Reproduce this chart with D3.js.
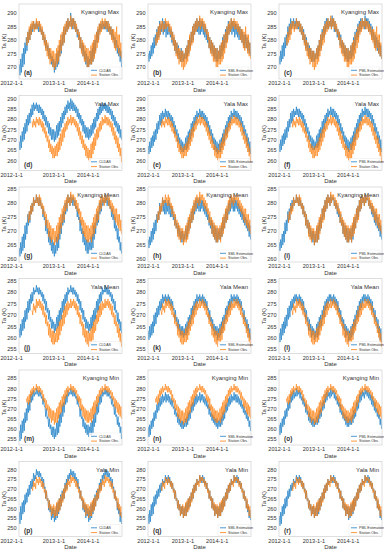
<!DOCTYPE html>
<html>
<head>
<meta charset="utf-8">
<script src="https://cdnjs.cloudflare.com/ajax/libs/d3/7.8.5/d3.min.js"></script>
<style>
  body { margin: 0; background: #fff; }
  text { font-family: "Liberation Sans", Arial, sans-serif; fill: #333; }
</style>
</head>
<body>
<div class="chart"></div>
<script>
// four readings per month, Jan 2012 .. Dec 2014, one year per line, K
const rowTitles = ['Kyanging Max', 'Yala Max', 'Kyanging Mean', 'Yala Mean', 'Kyanging Min', 'Yala Min'];
const modelNames = ['CLDAS', 'SML Estimation', 'PML Estimation'];
const obsName = 'Station Obs.';
const panelLetters = ['a','b','c','d','e','f','g','h','i','j','k','l','m','n','o','p','q','r'];
const xTickLabels = ['2012-1-1', '2013-1-1', '2014-1-1'];

const yDomains = [[265.6, 293.3], [255, 291.5], [259, 285.7], [253, 286], [252, 289], [245.5, 284]];
const yTicks = [
    [270, 275, 280, 285, 290],
    [260, 265, 270, 275, 280, 285, 290],
    [260, 265, 270, 275, 280, 285],
    [255, 260, 265, 270, 275, 280, 285],
    [255, 260, 265, 270, 275, 280, 285],
    [250, 255, 260, 265, 270, 275, 280]
];

// ---- Kyanging Max
const obsKyMax = [
    null,null,null,null, null,null,null,null, null,null,281,278, 283,279,285,280, 286,282,287,284, 287,283,286,284, 288,284,287,285, 287,283,286,282, 285,280,283,278, 282,276,280,274, 279,273,277,271, 277,272,276,270,
    276,269,275,270, 277,271,278,272, 280,274,282,276, 283,278,285,279, 286,282,287,283, 288,284,287,285, 289,284,288,285, 288,284,287,283, 286,282,284,280, 283,277,281,275, 280,274,279,272, 278,272,277,270,
    277,270,276,271, 278,271,279,272, 280,273,282,275, 283,277,285,279, 286,282,287,283, 288,284,287,285, 288,284,287,284, 287,283,286,282, 285,280,284,279, 284,277,283,276, 285,277,282,275, 282,274,279,273
];
const cldasKyMax = [
    271,267,273,268, 275,270,277,271, 279,275,281,276, 283,279,284,280, 285,282,286,283, 287,284,286,284, 287,284,286,283, 287,283,285,282, 284,280,283,279, 281,277,280,276, 278,274,277,273, 275,271,274,270,
    273,268,272,269, 275,270,276,271, 278,274,280,275, 282,278,284,279, 285,282,287,283, 288,284,287,285, 290,285,288,284, 288,284,287,283, 285,281,284,280, 282,277,281,276, 279,274,278,273, 276,271,275,270,
    274,270,273,271, 276,271,277,272, 279,274,280,276, 283,279,284,280, 286,283,286,284, 287,284,286,284, 287,284,287,283, 287,283,285,282, 285,281,284,280, 282,278,281,277, 280,275,278,274, 277,272,276,270
];
const smlKyMax = [
    275,272,276,273, 278,274,279,275, 281,277,282,278, 284,280,285,281, 287,282,286,283, 288,282,287,283, 287,281,286,282, 286,282,285,281, 284,279,283,278, 281,276,280,275, 279,274,278,273, 276,272,277,272,
    276,272,275,273, 277,273,278,274, 280,275,281,277, 283,279,285,280, 286,282,287,283, 288,283,287,282, 288,282,287,283, 287,282,286,281, 285,280,284,279, 282,277,281,276, 280,275,279,274, 278,273,277,272,
    277,272,276,273, 278,273,279,274, 281,276,282,277, 284,279,285,280, 287,282,286,283, 288,282,287,283, 287,281,286,282, 286,281,285,280, 285,280,284,279, 283,278,282,277, 282,277,281,276, 280,275,279,274
];
const pmlKyMax = [
    274,271,276,272, 278,273,279,274, 281,277,282,278, 285,281,286,282, 288,284,287,285, 288,284,287,285, 288,284,287,284, 287,283,286,282, 285,280,284,279, 282,277,281,276, 279,274,278,273, 277,272,276,272,
    276,272,275,273, 277,273,278,274, 280,276,282,277, 284,280,285,281, 287,283,288,284, 288,284,287,285, 288,284,289,285, 288,283,287,283, 285,281,284,280, 283,278,282,277, 280,275,279,274, 278,273,277,272,
    277,272,276,273, 278,273,279,274, 281,276,283,278, 284,280,286,281, 287,283,288,284, 288,285,287,284, 289,284,288,285, 288,283,287,283, 286,281,285,280, 283,278,282,277, 281,276,280,275, 279,274,278,273
];

// ---- Yala Max
const obsYaMax = [
    null,null,null,null, null,null,null,null, null,null,null,null, null,null,null,null, null,null,279,276, 280,277,279,276, 281,278,280,277, 281,277,280,276, 279,274,278,273, 276,271,274,269, 272,266,270,264, 268,263,267,261,
    266,261,267,262, 268,262,269,264, 271,265,273,267, 275,269,276,271, 278,274,279,275, 281,277,280,278, 282,277,281,278, 281,277,280,276, 279,274,278,272, 276,270,274,268, 272,266,270,265, 268,262,267,261,
    266,260,265,259, 268,261,269,263, 271,265,273,267, 275,270,276,271, 278,274,279,275, 281,277,280,278, 282,278,281,277, 281,277,280,276, 279,274,278,272, 276,270,274,268, 272,266,271,264, 268,262,266,259
];
const cldasYaMax = [
    269,265,272,266, 274,269,276,270, 278,273,280,274, 282,277,283,278, 285,281,287,282, 288,284,287,285, 288,284,287,283, 287,283,286,282, 285,280,284,279, 282,277,281,276, 279,273,278,272, 276,270,275,270,
    275,269,274,270, 277,271,278,272, 279,274,281,276, 283,278,284,280, 286,282,287,283, 289,285,288,284, 290,285,289,284, 288,284,287,283, 286,281,285,280, 283,278,282,277, 280,274,279,273, 277,271,276,271,
    276,270,275,271, 277,272,278,273, 280,275,281,276, 283,279,285,280, 286,282,287,283, 288,284,287,285, 288,284,287,283, 287,283,286,282, 285,280,284,279, 282,277,281,276, 279,274,278,273, 277,271,275,270
];
const smlYaMax = [
    267,263,269,264, 271,266,272,267, 274,269,275,270, 278,273,279,275, 282,277,283,278, 284,280,283,281, 285,281,284,280, 284,280,283,279, 282,277,281,276, 279,273,277,272, 275,269,273,268, 271,265,270,264,
    269,264,268,265, 271,265,272,266, 274,268,275,270, 278,272,279,274, 281,277,282,278, 284,280,283,281, 285,281,284,280, 284,280,283,279, 282,277,281,276, 279,273,277,272, 275,269,273,268, 271,265,270,264,
    269,263,268,264, 270,264,271,266, 273,268,275,269, 277,272,279,273, 281,276,282,278, 284,280,283,281, 285,281,284,280, 284,280,283,279, 282,277,281,276, 279,273,277,272, 275,269,273,267, 271,264,269,263
];
const pmlYaMax = [
    268,264,270,265, 272,267,273,268, 275,270,276,271, 279,274,280,276, 283,278,284,279, 285,281,284,282, 286,282,285,281, 285,281,284,280, 283,278,282,277, 280,274,278,273, 276,270,274,269, 272,266,271,265,
    270,265,269,266, 272,266,273,267, 275,269,276,271, 279,273,280,275, 282,278,283,279, 285,281,284,282, 286,282,285,281, 285,281,284,280, 283,278,282,277, 280,274,278,273, 276,270,274,269, 272,266,271,265,
    270,264,269,265, 271,265,272,267, 274,269,276,270, 278,273,280,274, 282,277,283,279, 285,281,284,282, 286,282,285,281, 285,281,284,280, 283,278,282,277, 280,274,278,273, 276,270,274,268, 272,265,270,264
];

// ---- Kyanging Mean
const obsKyMean = [
    null,null,null,null, null,null,null,null, null,null,null,null, 276,273,277,274, 279,276,280,277, 282,279,281,280, 283,280,282,279, 283,279,282,278, 280,276,279,275, 277,272,276,271, 274,268,273,267, 272,266,271,267,
    271,265,270,266, 272,266,273,267, 275,269,276,271, 278,273,279,274, 281,277,282,278, 283,280,282,279, 284,280,283,281, 283,279,282,278, 281,277,280,276, 278,273,277,272, 275,269,274,268, 273,267,272,266,
    272,266,271,267, 272,266,273,268, 275,269,276,271, 278,273,279,274, 281,277,282,278, 283,280,282,279, 283,280,282,281, 283,279,282,278, 281,277,280,276, 279,274,278,273, 278,272,276,271, 276,270,274,269
];
const cldasKyMean = [
    264,261,266,262, 268,263,269,264, 272,267,273,269, 276,272,277,273, 279,276,280,277, 282,279,281,280, 283,280,282,279, 282,279,281,278, 279,275,278,274, 275,270,274,269, 271,266,270,265, 268,263,267,262,
    266,261,265,262, 268,263,269,264, 272,267,273,269, 276,272,277,273, 280,276,281,277, 283,280,282,279, 283,280,282,279, 282,279,281,278, 279,275,278,274, 275,270,274,269, 271,266,270,265, 268,263,267,262,
    267,262,266,263, 268,263,269,264, 272,267,273,269, 276,272,277,273, 280,276,281,277, 282,279,281,280, 283,280,282,279, 282,279,281,278, 279,275,278,274, 276,271,275,270, 272,267,271,266, 268,263,266,262
];
const smlKyMean = [
    267,264,268,265, 270,266,271,267, 273,269,274,270, 276,273,277,274, 280,276,279,277, 282,277,281,276, 281,276,280,277, 281,276,280,275, 279,275,278,274, 276,272,275,271, 273,269,272,268, 271,267,270,266,
    270,266,269,267, 271,267,272,268, 274,270,275,271, 277,273,278,274, 280,276,281,277, 282,278,281,277, 282,277,281,278, 281,277,280,276, 279,275,278,274, 276,272,275,271, 274,269,273,268, 272,267,271,266,
    271,266,270,267, 271,267,272,268, 274,270,275,271, 277,273,278,274, 280,276,281,277, 282,278,281,277, 282,277,281,278, 281,277,280,276, 279,275,278,274, 277,273,276,272, 275,271,274,270, 273,268,272,267
];
const pmlKyMean = [
    266,263,267,264, 269,265,270,266, 273,269,274,270, 277,273,278,274, 280,277,281,278, 282,279,281,280, 283,280,282,279, 282,279,281,278, 280,276,279,275, 277,272,276,271, 274,269,273,268, 271,267,270,266,
    270,265,269,266, 271,266,272,267, 274,270,275,271, 278,274,279,275, 281,277,282,278, 283,280,282,279, 283,280,282,281, 282,279,281,278, 280,276,279,275, 277,273,276,272, 274,269,273,268, 272,267,271,266,
    271,266,270,267, 271,266,272,267, 274,270,275,271, 278,274,279,275, 281,277,282,278, 283,280,282,279, 283,280,282,281, 282,279,281,278, 280,276,279,275, 278,273,277,272, 276,271,275,270, 273,268,272,267
];

// ---- Yala Mean
const obsYaMean = [
    null,null,null,null, null,null,null,null, null,null,null,null, null,null,null,null, null,null,272,270, 275,272,274,271, 277,273,276,274, 277,273,276,272, 275,270,274,269, 271,266,270,265, 267,261,266,260, 264,258,263,257,
    263,257,262,258, 264,258,265,259, 267,261,268,263, 270,265,272,266, 274,269,275,270, 276,272,275,273, 277,273,276,274, 277,273,276,272, 275,270,274,269, 271,266,270,265, 267,261,266,260, 264,258,263,257,
    263,256,262,257, 264,258,265,259, 267,262,268,263, 270,266,272,267, 274,269,275,270, 276,272,275,273, 277,273,276,274, 277,273,276,272, 275,270,274,269, 271,266,270,265, 267,262,266,260, 264,258,262,256
];
const cldasYaMean = [
    264,260,266,261, 268,263,269,264, 272,267,273,268, 276,271,277,272, 279,275,280,276, 282,279,281,280, 283,280,282,279, 282,279,281,278, 280,276,279,275, 277,272,276,271, 273,268,272,267, 269,264,268,264,
    267,262,266,263, 269,264,270,265, 272,267,273,268, 276,271,277,272, 279,275,280,276, 282,279,281,280, 283,280,282,279, 282,279,281,278, 280,276,279,275, 277,272,276,271, 273,268,272,267, 269,264,268,264,
    267,262,266,263, 269,264,270,265, 272,267,273,268, 276,271,277,272, 279,275,280,276, 282,279,281,280, 283,280,282,279, 282,279,281,278, 280,276,279,275, 277,272,276,271, 272,267,271,266, 268,263,267,262
];
const smlYaMean = [
    263,259,265,260, 266,261,267,262, 270,265,271,266, 273,269,274,270, 276,272,277,273, 279,275,278,276, 279,275,278,276, 279,275,278,274, 277,273,276,272, 273,268,272,267, 269,264,268,263, 266,261,265,261,
    265,260,264,261, 266,261,267,262, 269,264,270,266, 273,268,274,270, 276,272,277,273, 279,275,278,276, 279,276,278,275, 279,275,278,274, 277,273,276,272, 273,268,272,267, 269,264,268,263, 266,261,265,261,
    265,259,264,260, 266,261,267,262, 269,264,270,266, 273,268,274,270, 276,272,277,273, 279,275,278,276, 279,276,278,275, 279,275,278,274, 277,273,276,272, 273,268,272,267, 269,264,268,263, 266,260,264,259
];
const pmlYaMean = [
    262,258,264,259, 266,261,267,262, 269,264,270,265, 273,268,274,269, 276,272,277,273, 278,275,279,276, 279,276,278,275, 279,275,278,274, 277,272,276,271, 273,268,272,267, 269,263,268,263, 266,260,265,261,
    264,259,263,260, 266,260,267,261, 269,264,270,265, 272,268,274,269, 276,272,277,273, 278,275,279,276, 279,276,278,275, 279,275,278,274, 277,272,276,271, 273,268,272,267, 269,264,268,263, 266,260,265,261,
    264,258,263,259, 265,260,266,261, 268,264,270,265, 272,268,274,269, 276,272,277,273, 278,275,279,276, 279,276,278,275, 279,275,278,274, 277,272,276,271, 273,268,272,267, 269,264,268,262, 265,259,264,258
];

// ---- Kyanging Min
const obsKyMin = [
    null,null,null,null, null,null,null,null, null,null,275,273, 276,272,277,273, 279,276,280,277, 281,278,280,279, 282,279,281,278, 281,278,280,277, 279,274,277,273, 275,270,274,269, 272,266,271,265, 270,263,269,264,
    269,262,268,263, 270,263,271,265, 273,267,274,268, 276,271,277,272, 279,275,280,276, 281,278,280,279, 282,279,281,278, 281,278,280,277, 279,274,277,273, 276,270,275,269, 272,266,271,265, 270,264,269,263,
    269,263,268,264, 270,263,271,265, 273,267,274,268, 276,271,277,273, 279,276,280,277, 281,278,280,279, 282,279,281,278, 281,278,280,277, 279,275,278,274, 276,271,275,270, 274,268,273,267, 272,266,271,265
];
const cldasKyMin = [
    259,254,262,255, 264,258,265,259, 268,263,270,264, 273,268,274,269, 277,273,278,274, 279,276,278,277, 280,277,279,276, 279,276,278,275, 276,272,275,271, 271,266,270,265, 266,261,265,260, 262,257,261,256,
    261,255,260,256, 263,257,264,258, 267,261,268,263, 272,266,273,268, 276,272,277,273, 279,276,278,277, 280,277,279,276, 279,276,278,275, 276,272,275,271, 271,266,270,265, 266,261,265,260, 263,258,262,257,
    262,256,261,257, 263,257,264,258, 267,261,268,263, 272,267,273,268, 276,272,277,273, 279,276,278,277, 280,277,279,276, 279,276,278,275, 276,272,275,271, 272,267,271,266, 267,262,266,261, 263,258,261,255
];
const smlKyMin = [
    261,256,262,257, 264,260,265,261, 268,264,269,265, 272,268,273,269, 275,271,276,272, 277,273,276,274, 278,273,277,274, 277,273,276,272, 275,271,274,270, 271,267,270,266, 268,263,267,262, 265,261,264,260,
    264,260,263,261, 265,261,266,262, 268,264,269,265, 272,268,273,269, 275,271,276,272, 277,273,276,274, 278,273,277,274, 277,273,276,272, 275,271,274,270, 272,267,271,266, 268,264,267,263, 266,262,265,261,
    265,260,264,261, 265,261,266,262, 268,264,269,265, 272,268,273,269, 275,271,276,272, 277,273,276,274, 278,274,277,273, 277,273,276,272, 275,271,274,270, 272,268,271,267, 269,265,268,264, 266,261,264,259
];
const pmlKyMin = [
    262,257,263,258, 265,261,266,262, 269,265,270,266, 273,269,274,270, 277,273,278,274, 279,275,278,276, 280,276,279,277, 279,275,278,274, 276,272,275,271, 273,268,272,267, 269,264,268,263, 266,262,265,261,
    265,261,264,262, 266,262,267,263, 269,265,270,266, 273,269,274,270, 277,273,278,274, 279,276,278,275, 280,276,279,277, 279,275,278,274, 276,272,275,271, 273,268,272,267, 269,265,268,264, 267,262,266,261,
    266,261,265,262, 266,262,267,263, 269,265,270,266, 273,269,274,270, 277,273,278,274, 279,276,278,275, 280,277,279,276, 279,275,278,274, 277,272,276,271, 274,269,273,268, 270,266,269,265, 267,262,265,260
];

// ---- Yala Min
const obsYaMin = [
    null,null,null,null, null,null,null,null, null,null,null,null, null,null,null,null, null,null,271,269, 274,271,273,270, 276,273,275,272, 276,273,275,271, 274,270,273,268, 270,265,269,264, 265,260,264,259, 262,256,261,257,
    262,255,261,256, 263,256,264,258, 265,259,266,261, 268,263,270,265, 272,268,273,269, 275,272,274,271, 277,273,276,274, 276,273,275,271, 274,270,273,268, 270,265,269,264, 266,260,265,259, 263,256,262,257,
    262,255,261,256, 263,256,264,258, 265,259,266,261, 268,264,270,265, 272,268,273,269, 275,272,274,271, 277,273,276,274, 276,273,275,271, 274,270,273,268, 270,265,269,264, 266,260,265,259, 262,256,261,255
];
const cldasYaMin = [
    258,252,261,254, 263,257,264,258, 267,262,268,263, 270,266,272,267, 274,270,275,271, 278,274,277,275, 280,277,279,276, 279,276,278,274, 276,271,275,270, 271,265,269,264, 265,259,264,258, 261,254,260,255,
    260,253,259,254, 262,255,263,257, 265,259,267,261, 269,264,270,265, 273,269,275,270, 277,274,278,275, 280,277,279,276, 279,275,278,274, 276,271,275,270, 271,265,269,264, 265,259,264,258, 262,255,261,256,
    260,253,259,254, 262,255,263,257, 265,259,267,261, 269,264,270,265, 273,269,275,270, 277,274,278,275, 280,277,279,276, 279,276,278,274, 276,271,275,270, 271,265,269,264, 265,259,263,257, 260,253,258,252
];
const smlYaMin = [
    257,252,259,253, 262,256,263,257, 266,261,267,262, 269,265,270,266, 272,268,273,269, 275,272,274,273, 277,274,276,273, 277,273,276,272, 274,270,273,269, 270,265,269,264, 265,260,264,259, 262,256,261,257,
    261,255,260,256, 262,256,263,258, 265,260,266,261, 268,264,270,265, 272,268,273,269, 275,272,274,273, 277,274,276,273, 277,273,276,272, 274,270,273,269, 270,265,269,264, 266,260,265,259, 262,256,261,257,
    261,255,260,256, 262,256,263,258, 265,260,266,261, 268,264,270,265, 272,268,273,269, 275,272,274,273, 277,274,276,273, 277,273,276,272, 274,270,273,269, 270,265,269,264, 266,260,264,258, 261,255,259,254
];
const pmlYaMin = [
    256,251,258,252, 261,256,262,257, 265,260,266,261, 269,265,270,266, 272,269,273,270, 275,272,274,273, 277,274,276,273, 277,273,276,272, 274,270,273,269, 270,265,269,264, 265,260,264,259, 262,256,261,257,
    261,255,260,256, 262,256,263,257, 265,259,266,261, 268,264,270,265, 272,268,273,269, 275,272,274,273, 277,274,276,273, 277,273,276,272, 274,270,273,269, 270,265,269,264, 266,260,265,259, 262,256,261,257,
    261,254,260,255, 262,256,263,257, 265,259,266,261, 268,264,270,265, 272,268,273,269, 275,272,274,273, 277,274,276,273, 277,273,276,272, 274,270,273,269, 270,265,269,264, 266,260,264,259, 261,255,259,254
];

const obsSeries = [obsKyMax, obsYaMax, obsKyMean, obsYaMean, obsKyMin, obsYaMin];
const modelSeries = [
    [cldasKyMax, smlKyMax, pmlKyMax],
    [cldasYaMax, smlYaMax, pmlYaMax],
    [cldasKyMean, smlKyMean, pmlKyMean],
    [cldasYaMean, smlYaMean, pmlYaMean],
    [cldasKyMin, smlKyMin, pmlKyMin],
    [cldasYaMin, smlYaMin, pmlYaMin]
];

// layout
const colLeft = [19, 148, 279];
const pw = 103;
const ph = 75;
const rowTop = r => 4 + r * 91.5;
const blue = '#1f80c6';
const orange = '#ff7f0e';

const readingDays = [4, 11, 19, 26];
const dateAt = i => new Date(2012, Math.floor(i / 4), readingDays[i % 4]);
const xTickDates = [new Date(2012, 0, 1), new Date(2013, 0, 1), new Date(2014, 0, 1)];

const svg = d3.select('.chart')
    .append('svg')
        .attr('width', 384)
        .attr('height', 550);

const x = d3.scaleTime()
    .domain([new Date(2012, 0, 1), new Date(2014, 11, 31)])
    .range([0, pw]);

rowTitles.forEach((title, r) => {
    const y = d3.scaleLinear()
        .domain(yDomains[r])
        .range([ph, 0]);

    const line = d3.line()
        .defined(d => d.v != null)
        .x(d => x(d.date))
        .y(d => y(d.v));

    const toPoints = arr => arr.map((v, i) => ({ date: dateAt(i), v: v }));

    modelNames.forEach((mName, c) => {
        const idx = r * 3 + c;
        const g = svg.append('g')
            .attr('transform', `translate(${colLeft[c]}, ${rowTop(r)})`);

        g.append('clipPath')
            .attr('id', 'clip' + idx)
            .append('rect')
                .attr('width', pw)
                .attr('height', ph);

        // axes, no tick marks
        const yAxis = d3.axisLeft(y)
            .tickValues(yTicks[r])
            .tickSize(0)
            .tickPadding(2.5);
        const gy = g.append('g').call(yAxis);
        gy.select('.domain').remove();
        gy.selectAll('text').style('font-size', '5.6px').attr('fill', '#333');

        const xAxis = d3.axisBottom(x)
            .tickValues(xTickDates)
            .tickFormat((d, i) => xTickLabels[i])
            .tickSize(0)
            .tickPadding(2.2);
        const gx = g.append('g')
            .attr('transform', `translate(0, ${ph})`)
            .call(xAxis);
        gx.select('.domain').remove();
        gx.selectAll('text').style('font-size', '5.6px').attr('fill', '#333');
        if (c === 0) {
            gx.selectAll('text').filter((d, i) => i === 0)
                .attr('text-anchor', 'start')
                .attr('x', -colLeft[c]);
        }

        g.append('text')
            .attr('x', pw / 2)
            .attr('y', ph + 12.5)
            .attr('text-anchor', 'middle')
            .style('font-size', '6px')
            .text('Date');

        g.append('text')
            .attr('transform', `translate(-13, ${ph / 2}) rotate(-90)`)
            .attr('text-anchor', 'middle')
            .style('font-size', '6px')
            .text('Ta (K)');

        const plot = g.append('g').attr('clip-path', `url(#clip${idx})`);

        plot.append('path')
            .datum(toPoints(modelSeries[r][c]))
            .attr('d', line)
            .attr('fill', 'none')
            .attr('stroke', blue)
            .attr('stroke-width', 0.75)
            .attr('stroke-opacity', 0.95);

        plot.append('path')
            .datum(toPoints(obsSeries[r]))
            .attr('d', line)
            .attr('fill', 'none')
            .attr('stroke', orange)
            .attr('stroke-width', 0.75)
            .attr('stroke-opacity', 0.85);

        g.append('rect')
            .attr('width', pw)
            .attr('height', ph)
            .attr('fill', 'none')
            .attr('stroke', '#c8c8c8')
            .attr('stroke-width', 0.6);

        g.append('text')
            .attr('x', pw - 3)
            .attr('y', 10)
            .attr('text-anchor', 'end')
            .style('font-size', '6px')
            .attr('fill', '#222')
            .text(title);

        g.append('text')
            .attr('x', 5)
            .attr('y', ph - 4)
            .style('font-size', '6.5px')
            .style('font-weight', 'bold')
            .attr('fill', '#222')
            .text(`(${panelLetters[idx]})`);

        // legend
        const lg = g.append('g')
            .attr('transform', `translate(${pw - 33}, ${ph - 12})`);
        lg.append('rect')
            .attr('width', 31)
            .attr('height', 11)
            .attr('fill', '#fff')
            .attr('fill-opacity', 0.8)
            .attr('stroke', '#e4e4e4')
            .attr('stroke-width', 0.4);
        [[mName, blue], [obsName, orange]].forEach(([name, col], k) => {
            lg.append('line')
                .attr('x1', 2).attr('x2', 8)
                .attr('y1', 3.3 + k * 4.8).attr('y2', 3.3 + k * 4.8)
                .attr('stroke', col)
                .attr('stroke-width', 0.8);
            lg.append('text')
                .attr('x', 10)
                .attr('y', 4.6 + k * 4.8)
                .style('font-size', '3.6px')
                .attr('fill', '#333')
                .text(name);
        });
    });
});
</script>
</body>
</html>
